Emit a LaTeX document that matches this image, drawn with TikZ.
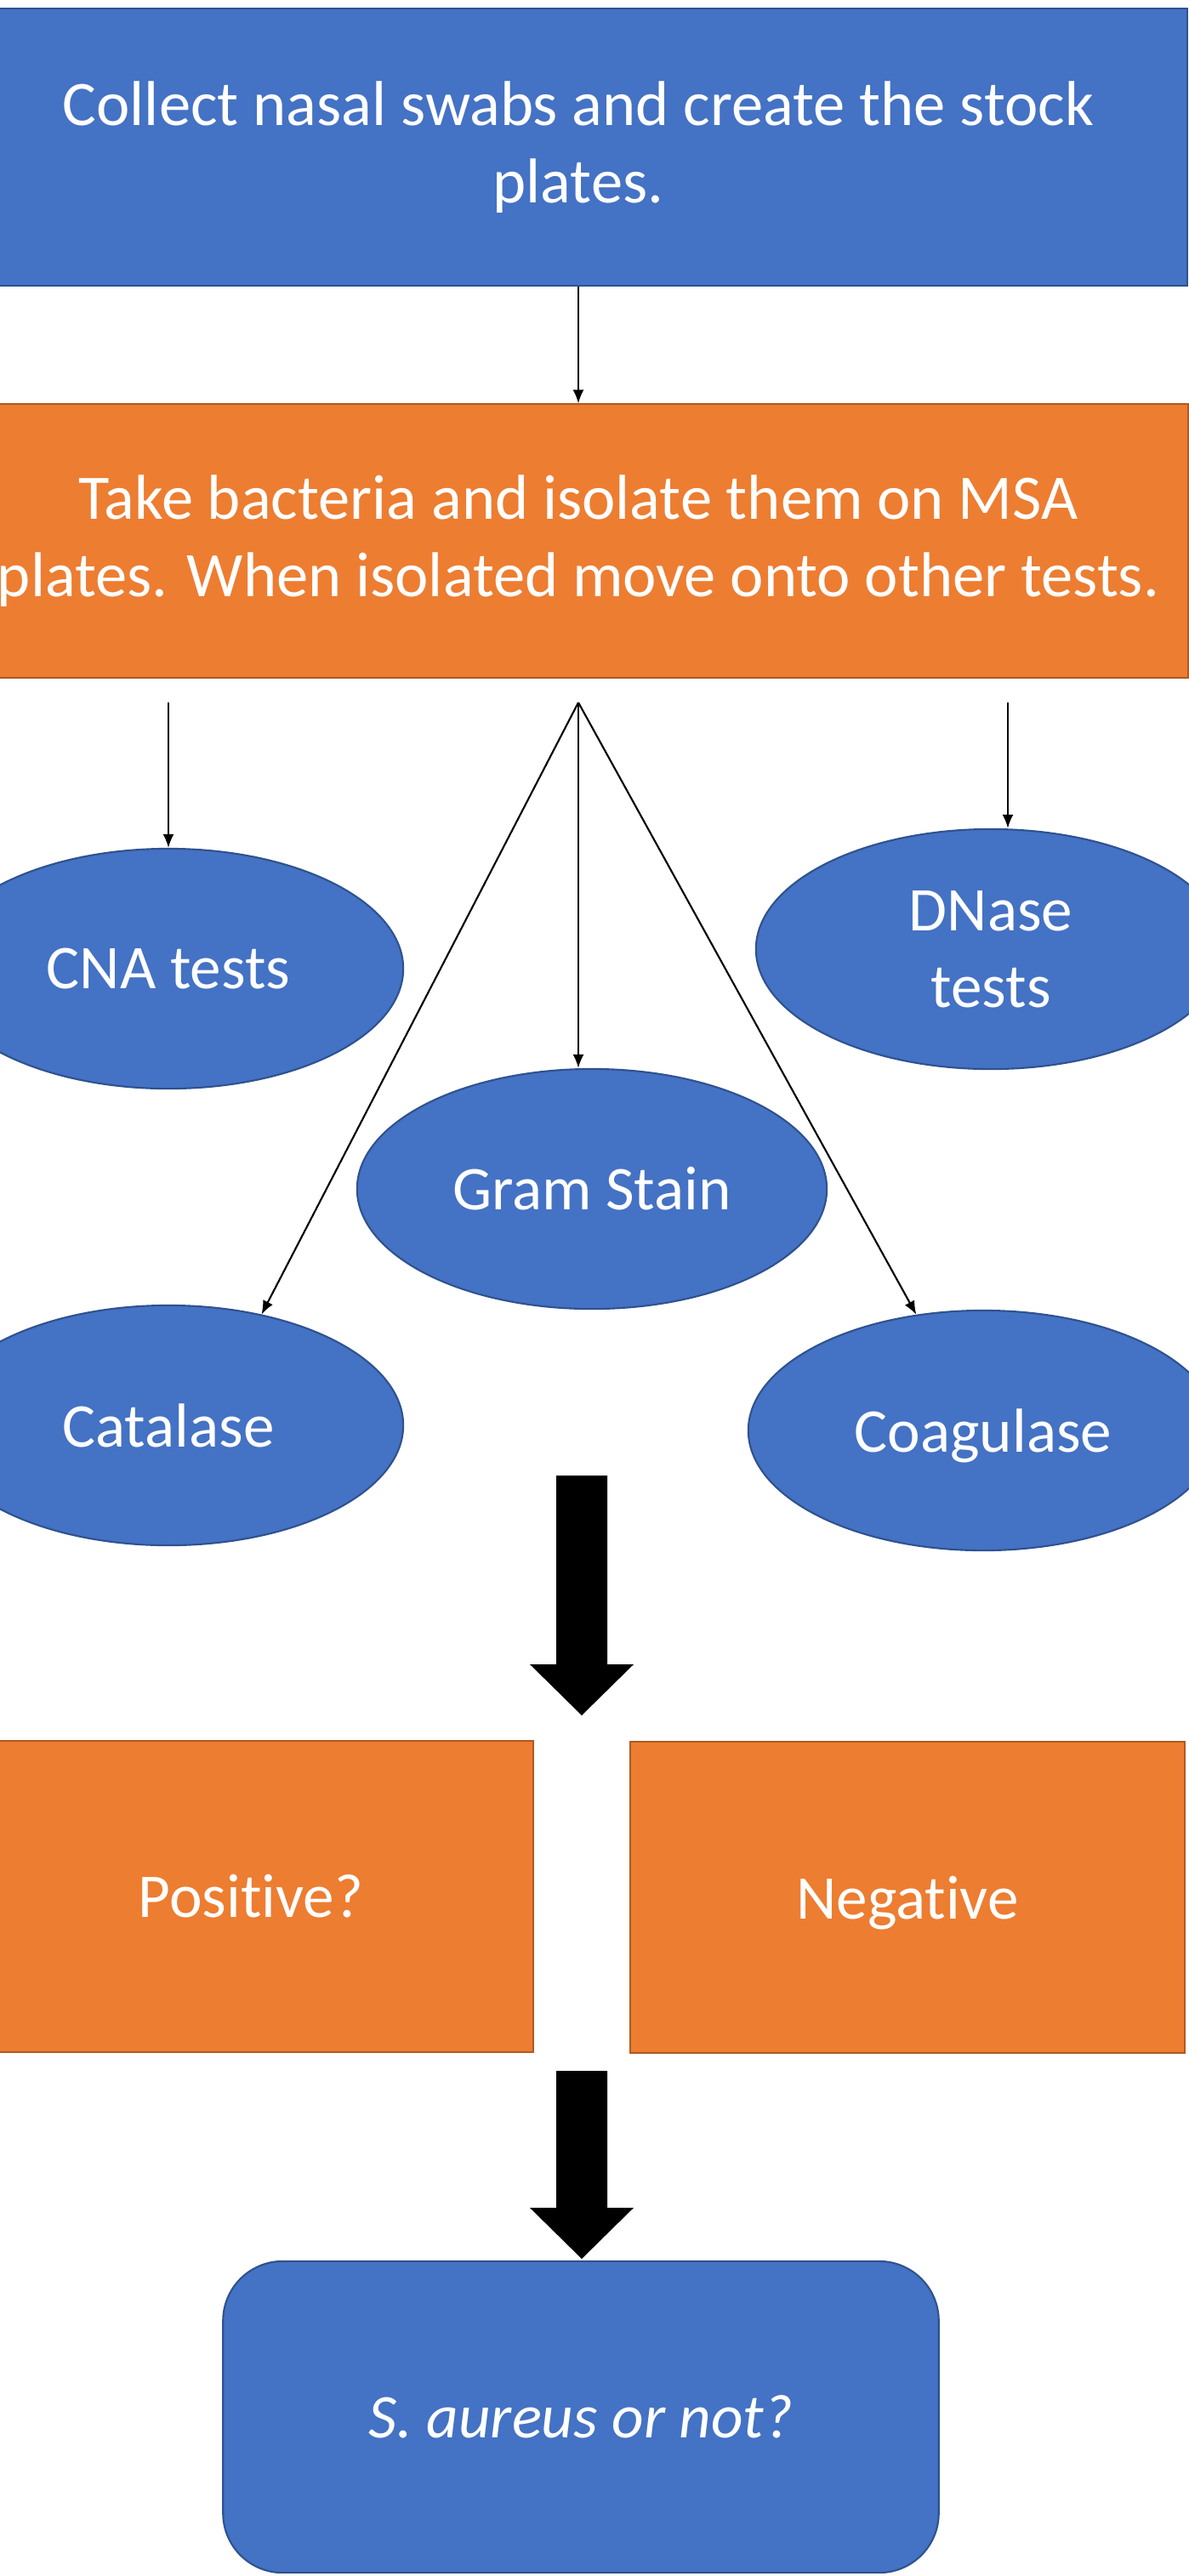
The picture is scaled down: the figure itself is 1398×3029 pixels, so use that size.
\documentclass[tikz,border=0pt]{standalone}
\usepackage{fontspec}
\setmainfont{Carlito}[Ligatures=NoCommon]
\usepackage{tikz}
\usetikzlibrary{shapes.geometric}
\usetikzlibrary{arrows.meta}
\definecolor{boxblue}{HTML}{4472C4}
\definecolor{blueedge}{HTML}{2F528F}
\definecolor{boxorange}{HTML}{ED7D31}
\definecolor{orangeedge}{HTML}{AE5A21}

\begin{document}
\begin{tikzpicture}[x=0.01cm, y=-0.01cm,
    every node/.style={text=white, font=\fontsize{20.8}{25.6}\selectfont, align=center, inner sep=0pt},
    bluebox/.style={draw=blueedge, fill=boxblue, line width=0.6pt},
    orangebox/.style={draw=orangeedge, fill=boxorange, line width=0.6pt},
    bigtext/.style={font=\fontsize{21.2}{26}\selectfont},
    flat/.style={text depth=0pt},
    test/.style={ellipse, draw=blueedge, fill=boxblue, line width=0.6pt, minimum width=5.52cm, minimum height=2.82cm},
    link/.style={-{Latex[length=0.16cm, width=0.13cm]}, line width=0.6pt}]
    \useasboundingbox (0,0) rectangle (1398,3029);

    \node[bluebox, bigtext, minimum width=14.32cm, minimum height=3.26cm] (collect) at (680,173) {Collect nasal swabs and create the stock\\plates.};
    \node[orangebox, bigtext, minimum width=14.33cm, minimum height=3.21cm] (isolate) at (680,636) {Take bacteria and isolate them on MSA\\plates. When isolated move onto other tests.};

    \node[test] (cna) at (198,1139) {CNA tests};
    \node[test] (dnase) at (1165,1116) {DNase\\tests};
    \node[test] (gram) at (696,1398) {Gram Stain};
    \node[test] (catalase) at (198,1676) {Catalase};
    \node[test, flat] (coagulase) at (1156,1682) {Coagulase};

    \node[orangebox, minimum width=6.64cm, minimum height=3.65cm] (positive) at (295,2230) {Positive?};
    \node[orangebox, flat, minimum width=6.52cm, minimum height=3.65cm] (negative) at (1067,2231) {Negative};
    \node[bluebox, rounded corners=0.7cm, minimum width=8.41cm, minimum height=3.66cm] (verdict) at (683,2842) {\itshape S. aureus or not?};

    \coordinate (fan) at (680,826);
    \coordinate (cnastart) at (198,826);
    \coordinate (dnasestart) at (1185,826);

    \draw[link] (collect.south) -- (isolate.north);
    \draw[link] (cnastart) -- (cna.north);
    \draw[link] (dnasestart) -- (dnasestart |- dnase.north);
    \draw[link] (fan) -- (fan |- gram.north);
    \draw[link] (fan) -- (catalase.50);
    \draw[link] (fan) -- (coagulase.120);

    % big arrows
    \fill (654,1735) -- (714,1735) -- (714,1957) -- (745,1957) -- (684,2017) -- (623,1957) -- (654,1957) -- cycle;
    \fill (654,2435) -- (714,2435) -- (714,2596) -- (745,2596) -- (684,2656) -- (623,2596) -- (654,2596) -- cycle;
\end{tikzpicture}
\end{document}
